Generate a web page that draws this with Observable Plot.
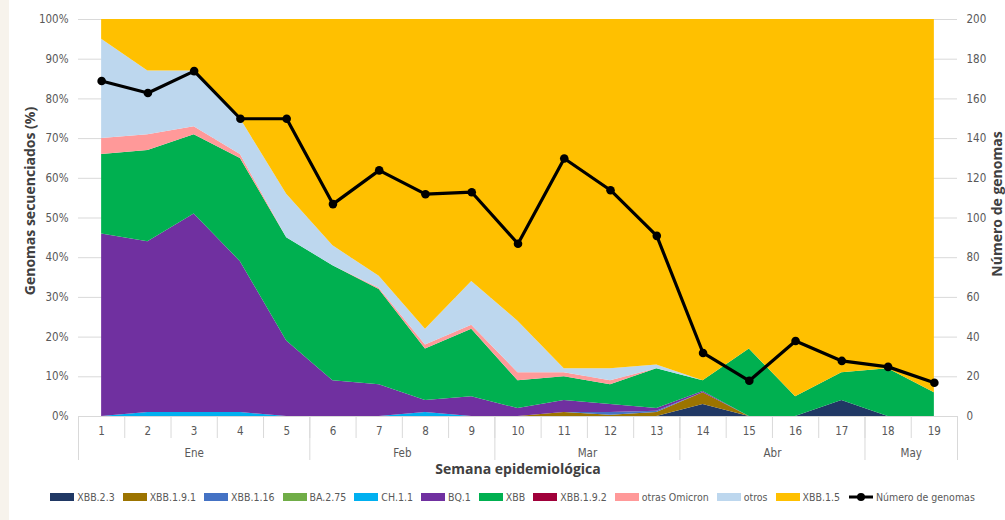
<!DOCTYPE html>
<html>
<head>
<meta charset="utf-8">
<script src="https://cdn.jsdelivr.net/npm/d3@7"></script>
<script src="https://cdn.jsdelivr.net/npm/@observablehq/plot@0.6"></script>
<style>
  html, body { margin: 0; padding: 0; background: #ffffff; }
  #wrap { position: relative; width: 1005px; height: 520px; overflow: hidden; }
  #deco { position: absolute; left: 0; top: 0; width: 9px; height: 520px; background: #f7f3ec; }
  #chart svg { display: block; }
  #legend { position: absolute; left: 0; top: 491px; width: 1025px; display: flex; justify-content: center; align-items: center;
    font-family: "Liberation Sans Narrow", "DejaVu Sans", sans-serif; font-stretch: condensed; font-size: 10.5px; color: #595959; }
  .item { display: flex; align-items: center; margin: 0 4px; }
  .sw { width: 24px; height: 8px; margin-right: 3px; }
</style>
</head>
<body>
<div id="wrap">
  <div id="deco"></div>
  <div id="chart"></div>
  <div id="legend"></div>
</div>
<script>
const weeks = [1,2,3,4,5,6,7,8,9,10,11,12,13,14,15,16,17,18,19];
const weekBounds = [0.5,1.5,2.5,3.5,4.5,5.5,6.5,7.5,8.5,9.5,10.5,11.5,12.5,13.5,14.5,15.5,16.5,17.5,18.5,19.5];
const months = [
  {name: "Ene", first: 1, last: 5},
  {name: "Feb", first: 6, last: 9},
  {name: "Mar", first: 10, last: 13},
  {name: "Abr", first: 14, last: 17},
  {name: "May", first: 18, last: 19}
];
const monthBounds = [0.5, 5.5, 9.5, 13.5, 17.5, 19.5];

const seriesNames = ["XBB.2.3","XBB.1.9.1","XBB.1.16","BA.2.75","CH.1.1","BQ.1","XBB","XBB.1.9.2","otras Omicron","otros","XBB.1.5"];
const seriesColors = ["#203864","#9c7400","#4472c4","#70ad47","#00b0f0","#7030a0","#00b050","#a0003a","#ff9999","#bdd7ee","#ffc000"];

// percentages per week (1..19)
const XBB_2_3      = [0,0,0,0,0,0,0,0,0,0,0,0,0,3,0,0,4,0,0];
const XBB_1_9_1    = [0,0,0,0,0,0,0,0,0,0,1,0.3,1,3,0,0,0,0,0];
const XBB_1_16     = [0,0,0,0,0,0,0,0,0,0,0,0.7,0.3,0,0,0,0,0,0];
const BA_2_75      = [0,0,0,0,0,0,0,0,0,0,0,0,0,0,0,0,0,0,0];
const CH_1_1       = [0,1,1,1,0,0,0,1,0,0,0,0,0,0,0,0,0,0,0];
const BQ_1         = [46,43,50,38,19,9,8,3,5,2,3,2,0.7,0.3,0,0,0,0,0];
const XBB          = [20,23,20,26,26,29,24,13,17,7,6,5,10,2.7,17,5,7,12,6];
const XBB_1_9_2    = [0,0,0,0,0,0,0,0,0,0,0,0,0,0,0,0,0,0,0];
const otrasOmicron = [4,4,2,1,0,0,0.3,1,1,2,1,1,0,0,0,0,0,0,0];
const otros        = [25,16,14,9,11,5,3,4,11,13,1,3,1,0,0,0,0,0,0];
const XBB_1_5      = [5,13,13,25,44,57,64.7,78,66,76,88,88,87,91,83,95,89,88,94];

const genomas = [169,163,174,150,150,107,124,112,113,87,130,114,91,32,18,38,28,25,17];

const yTicks = [0,0.1,0.2,0.3,0.4,0.5,0.6,0.7,0.8,0.9,1];
const genomasMax = 200;

const seriesValues = [XBB_2_3, XBB_1_9_1, XBB_1_16, BA_2_75, CH_1_1, BQ_1, XBB, XBB_1_9_2, otrasOmicron, otros, XBB_1_5];
const rows = [];
seriesNames.forEach((s, si) => weeks.forEach((w, wi) => rows.push({series: s, week: w, value: seriesValues[si][wi]})));
const lineRows = weeks.map((w, i) => ({week: w, n: genomas[i]}));

const labelFont = "'Liberation Sans Narrow', 'DejaVu Sans Condensed', 'Liberation Sans', sans-serif";
const titleFont = "'Open Sans', 'Noto Sans', sans-serif";

const chart = Plot.plot({
  width: 1005,
  height: 480,
  marginLeft: 78,
  marginRight: 48,
  marginTop: 19,
  marginBottom: 64,
  x: {type: "linear", domain: [0.5, 19.5], axis: null},
  y: {domain: [0, 1], axis: null},
  color: {domain: seriesNames, range: seriesColors},
  style: {fontFamily: labelFont, fontSize: "12px", color: "#595959", background: "transparent"},
  marks: [
    Plot.ruleY(yTicks, {stroke: "#d9d9d9", strokeWidth: 1}),
    Plot.areaY(rows, {x: "week", y: "value", z: "series", fill: "series", order: seriesNames, offset: "normalize", curve: "linear"}),
    Plot.line(lineRows, {x: "week", y: d => d.n / genomasMax, stroke: "#000", strokeWidth: 3.2}),
    Plot.dot(lineRows, {x: "week", y: d => d.n / genomasMax, r: 4.3, fill: "#000"}),
    Plot.ruleY([0], {stroke: "#d9d9d9"}),
    Plot.ruleX(weekBounds, {x: d => d, y1: 0, y2: 0, insetBottom: -22, stroke: "#d9d9d9"}),
    Plot.ruleX(monthBounds, {x: d => d, y1: 0, y2: 0, insetBottom: -44, stroke: "#d9d9d9"}),
    Plot.axisY({anchor: "left", ticks: yTicks, tickFormat: d => Math.round(d * 100) + "%", tickSize: 0, tickPadding: 10, label: null, fontSize: 11.5}),
    Plot.axisY({anchor: "right", ticks: yTicks, tickFormat: d => Math.round(d * genomasMax), tickSize: 0, tickPadding: 9, label: null, fontSize: 11.5}),
    Plot.text(weeks, {x: d => d, text: d => String(d), frameAnchor: "bottom", lineAnchor: "middle", dy: 15, fontSize: 11.5, fill: "#595959"}),
    Plot.text(months, {x: d => (d.first + d.last) / 2, text: "name", frameAnchor: "bottom", lineAnchor: "middle", dy: 37, fontSize: 11.5, fill: "#595959"}),
    Plot.text(["Semana epidemiológica"], {text: d => d, frameAnchor: "bottom", lineAnchor: "middle", dy: 53, fontSize: 14, fontWeight: "bold", fill: "#404040", fontFamily: titleFont}),
    Plot.text(["Genomas secuenciados (%)"], {text: d => d, frameAnchor: "left", textAnchor: "middle", lineAnchor: "middle", dx: -48, dy: -17, rotate: -90, fontSize: 14, fontWeight: "bold", fill: "#404040", fontFamily: titleFont}),
    Plot.text(["Número de genomas"], {text: d => d, frameAnchor: "right", textAnchor: "middle", lineAnchor: "middle", dx: 40, dy: -14, rotate: -90, fontSize: 14, fontWeight: "bold", fill: "#404040", fontFamily: titleFont})
  ]
});
document.getElementById("chart").appendChild(chart);

const legend = document.getElementById("legend");
seriesNames.forEach((s, i) => {
  const it = document.createElement("div");
  it.className = "item";
  const sw = document.createElement("div");
  sw.className = "sw";
  sw.style.background = seriesColors[i];
  const t = document.createElement("span");
  t.textContent = s;
  it.appendChild(sw); it.appendChild(t);
  legend.appendChild(it);
});
const li = document.createElement("div");
li.className = "item";
li.innerHTML = '<svg width="26" height="10" style="margin-right:2px"><line x1="1" y1="5" x2="25" y2="5" stroke="#000" stroke-width="3"/><circle cx="13" cy="5" r="4" fill="#000"/></svg><span>Número de genomas</span>';
legend.appendChild(li);
</script>
</body>
</html>
